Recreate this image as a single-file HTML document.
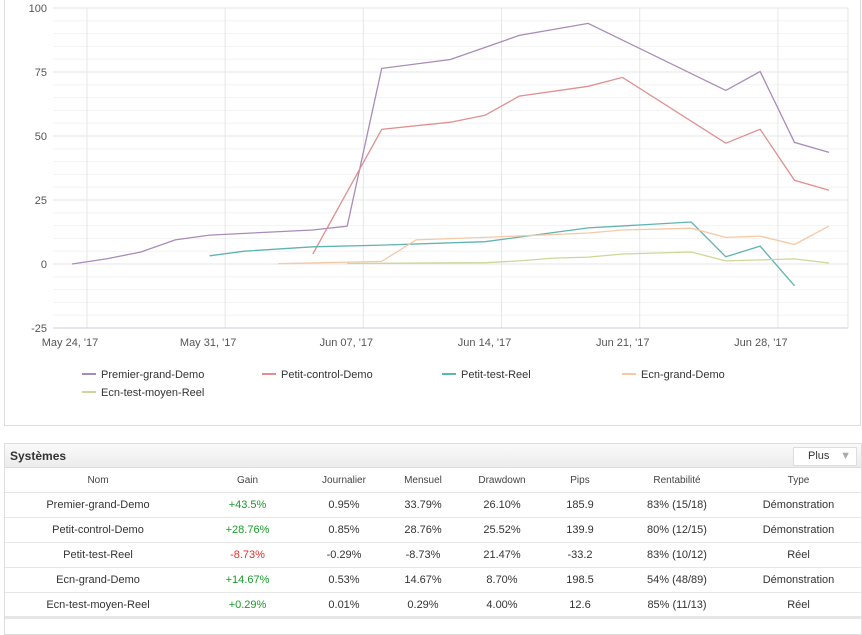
<!DOCTYPE html>
<html><head><meta charset="utf-8"><style>
body{margin:0;width:862px;height:624px;background:#fff;font-family:"Liberation Sans",sans-serif;overflow:hidden;position:relative}
.panel{position:absolute;left:4px;width:855px;border:1px solid #ddd;background:#fff}
.tbl{position:absolute;left:4px;top:443px;width:856px;height:190px;border:1px solid #ddd;background:#fff}
.hdr{height:23px;background:linear-gradient(#fafafa,#ececec);border-bottom:1px solid #ddd;position:relative}
.hdr b{position:absolute;left:5px;top:5px;font-size:12px;color:#333}
.plus{position:absolute;right:4px;top:3px;width:62px;height:17px;border:1px solid #ddd;background:#fff;font-size:11px;color:#333;line-height:17px}
table{border-collapse:collapse;width:100%;font-size:11px;color:#333}
td,th{text-align:center;height:24px;border-bottom:1px solid #e6e6e6;padding:0;font-weight:normal}
th{color:#444;font-size:10px}
.g{color:#1a9a2a}.r{color:#d9302f}
</style></head><body>
<div class="panel" style="top:-1px;height:425px"></div>
<svg id="chart" width="862" height="430" style="position:absolute;left:0;top:0"></svg>
<div class="tbl">
 <div class="hdr"><b>Systèmes</b>
  <div class="plus"><span style="position:absolute;left:14px">Plus</span><span style="position:absolute;right:5px;color:#aaa">▼</span></div></div>
 <table>
  <colgroup><col style="width:186px"><col style="width:113px"><col style="width:80px"><col style="width:78px"><col style="width:80px"><col style="width:76px"><col style="width:118px"><col></colgroup>
  <tr><th>Nom</th><th>Gain</th><th>Journalier</th><th>Mensuel</th><th>Drawdown</th><th>Pips</th><th>Rentabilité</th><th>Type</th></tr>
  <tr><td>Premier-grand-Demo</td><td class="g">+43.5%</td><td>0.95%</td><td>33.79%</td><td>26.10%</td><td>185.9</td><td>83% (15/18)</td><td>Démonstration</td></tr>
  <tr><td>Petit-control-Demo</td><td class="g">+28.76%</td><td>0.85%</td><td>28.76%</td><td>25.52%</td><td>139.9</td><td>80% (12/15)</td><td>Démonstration</td></tr>
  <tr><td>Petit-test-Reel</td><td class="r">-8.73%</td><td>-0.29%</td><td>-8.73%</td><td>21.47%</td><td>-33.2</td><td>83% (10/12)</td><td>Réel</td></tr>
  <tr><td>Ecn-grand-Demo</td><td class="g">+14.67%</td><td>0.53%</td><td>14.67%</td><td>8.70%</td><td>198.5</td><td>54% (48/89)</td><td>Démonstration</td></tr>
  <tr><td>Ecn-test-moyen-Reel</td><td class="g">+0.29%</td><td>0.01%</td><td>0.29%</td><td>4.00%</td><td>12.6</td><td>85% (11/13)</td><td>Réel</td></tr>
 </table>
 <div style="position:absolute;left:0;right:0;top:172px;height:3px;background:#e6e6e6"></div>
</div>
<script>
// day offsets from May 24 '17
const days=[-0.76,0.98,2.73,4.47,6.21,7.96,9.70,11.44,13.18,14.93,16.67,18.41,20.16,21.90,23.64,25.39,27.13,28.87,30.61,32.36,34.10,35.84,37.59];
const seriesNames=["Premier-grand-Demo","Petit-control-Demo","Petit-test-Reel","Ecn-grand-Demo","Ecn-test-moyen-Reel"];
const seriesColors=["#a98bb8","#e09090","#5fb3b0","#f6c9a6","#cbd898"];
const premier=[0,2,4.7,9.4,11.3,null,null,13.3,14.8,76.4,null,79.9,null,89.3,null,94,null,null,null,67.8,75.2,47.5,43.6];
const petitControl=[null,null,null,null,null,null,null,3.9,null,52.6,null,55.4,58.1,65.6,null,69.4,72.9,null,null,47.2,52.6,32.7,28.8];
const petitTest=[null,null,null,null,3.2,5,null,6.7,null,7.4,null,null,8.7,null,null,14.1,null,null,16.4,2.8,7,-8.5,null];
const ecnGrand=[null,null,null,null,null,null,0.1,null,null,1,9.4,null,10.4,null,null,12.1,13.3,null,14,10.4,10.9,7.6,14.8];
const ecnMoyen=[null,null,null,null,null,null,null,null,0.2,null,null,null,0.5,1.2,2.3,2.7,3.9,null,4.7,1.2,1.6,2,0.4];
const yTicks=[100,75,50,25,0,-25];
const xTickDays=[0,7,14,21,28,35];
const xTickLabels=["May 24, '17","May 31, '17","Jun 07, '17","Jun 14, '17","Jun 21, '17","Jun 28, '17"];
const allSeries=[premier,petitControl,petitTest,ecnGrand,ecnMoyen];

const svg=document.getElementById('chart');const NS="http://www.w3.org/2000/svg";
const L=53,R=848,T=8,B=328;
const xs=d=>87+d*19.74;
const ys=v=>T+(100-v)/125*(B-T);
function mk(t,a){const e=document.createElementNS(NS,t);for(const k in a)e.setAttribute(k,a[k]);svg.appendChild(e);return e;}
for(let v=-25;v<=100;v+=5){const ln=mk('line',{x1:L,x2:R,y1:ys(v),y2:ys(v),stroke:v%25===0?'#e6e6e6':'#f3f3f3','stroke-width':1});

}
yTicks.forEach(v=>{const t=mk('text',{x:47,y:ys(v)+4,'text-anchor':'end','font-size':11,fill:'#555'});t.textContent=v;

});
xTickDays.forEach((d,i)=>{const ln=mk('line',{x1:xs(d),x2:xs(d),y1:T,y2:B,stroke:'#e6e6e6'});


const t=mk('text',{x:xs(d)-17,y:346,'text-anchor':'middle','font-size':11,fill:'#555'});t.textContent=xTickLabels[i];

});
const ax=mk('line',{x1:L,x2:R,y1:B,y2:B,stroke:'#ccd'});


const ax2=mk('line',{x1:R,x2:R,y1:T,y2:B,stroke:'#e6e6e6'});


allSeries.forEach((s,i)=>{const pts=[];s.forEach((v,j)=>{if(v!==null)pts.push(xs(days[j]).toFixed(1)+','+ys(v).toFixed(1));});
const p=mk('polyline',{points:pts.join(' '),fill:'none',stroke:seriesColors[i],'stroke-width':1.3});

});
const legPos=[[82,374],[262,374],[442,374],[622,374],[82,392]];
seriesNames.forEach((n,i)=>{const g=mk('g',{});


const l=document.createElementNS(NS,'line');l.setAttribute('x1',legPos[i][0]);l.setAttribute('x2',legPos[i][0]+14);l.setAttribute('y1',legPos[i][1]);l.setAttribute('y2',legPos[i][1]);l.setAttribute('stroke',seriesColors[i]);l.setAttribute('stroke-width',2);g.appendChild(l);
const t=document.createElementNS(NS,'text');t.setAttribute('x',legPos[i][0]+19);t.setAttribute('y',legPos[i][1]+4);t.setAttribute('font-size',11);t.setAttribute('fill','#333');t.textContent=n;g.appendChild(t);});
</script>
</body></html>
